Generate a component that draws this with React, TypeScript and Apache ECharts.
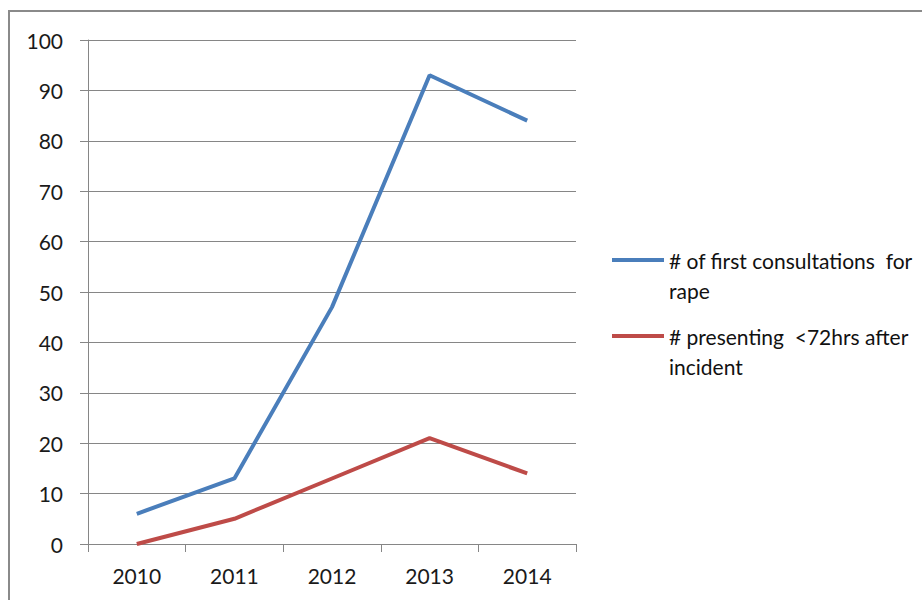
import React, { useEffect, useRef } from "react";
import * as echarts from "echarts";

const years = ["2010", "2011", "2012", "2013", "2014"];
const firstConsultations = [6, 13, 47, 93, 84];
const presentingWithin72h = [0, 5, 13, 21, 14];
const seriesNames = [
  "# of first consultations  for rape",
  "# presenting  <72hrs after incident",
];
// Wrapped legend labels; the leading blank line keeps the first text line level with the swatch
const legendLines: Record<string, string> = {
  "# of first consultations  for rape": " \n# of first consultations  for\nrape",
  "# presenting  <72hrs after incident": " \n# presenting  <72hrs after\nincident",
};

const FONT = "Lato";
const GRAY = "#868686";

export default function App() {
  const ref = useRef<HTMLDivElement>(null);

  useEffect(() => {
    if (!ref.current) return;
    const chart = echarts.init(ref.current, undefined, { renderer: "svg" });
    const legendCommon = {
      orient: "vertical" as const,
      left: 612,
      padding: 0,
      icon: "rect",
      itemWidth: 52,
      itemHeight: 4,
      itemGap: 0,
      formatter: (name: string) => legendLines[name] ?? name,
      textStyle: {
        fontFamily: FONT,
        fontSize: 21,
        color: "#111",
        lineHeight: 30,
      },
    };
    chart.setOption({
      animation: false,
      backgroundColor: "#fff",
      graphic: [
        {
          type: "rect",
          shape: { x: 9, y: 11, width: 1000, height: 700 },
          style: { fill: "none", stroke: "#8a8a8a", lineWidth: 2 },
          silent: true,
        },
      ],
      grid: { left: 88, right: 346, top: 40, bottom: 56 },
      legend: [
        { ...legendCommon, top: 215, data: [seriesNames[0]] },
        { ...legendCommon, top: 291, data: [seriesNames[1]] },
      ],
      xAxis: {
        type: "category",
        data: years,
        boundaryGap: true,
        axisLine: { lineStyle: { color: GRAY, width: 1 } },
        axisTick: { show: true, length: 8, lineStyle: { color: GRAY } },
        axisLabel: { fontFamily: FONT, fontSize: 21, color: "#1a1a1a", margin: 21 },
      },
      yAxis: {
        type: "value",
        min: 0,
        max: 100,
        interval: 10,
        axisLine: { show: true, lineStyle: { color: GRAY, width: 1 } },
        axisTick: { show: true, length: 8, lineStyle: { color: GRAY } },
        splitLine: { show: true, lineStyle: { color: GRAY, width: 1 } },
        axisLabel: { fontFamily: FONT, fontSize: 21, color: "#1a1a1a", margin: 25 },
      },
      series: [
        {
          name: seriesNames[0],
          type: "line",
          data: firstConsultations,
          symbol: "none",
          color: "#4A7EBB",
          lineStyle: { width: 4, color: "#4A7EBB" },
        },
        {
          name: seriesNames[1],
          type: "line",
          data: presentingWithin72h,
          symbol: "none",
          color: "#BE4B48",
          lineStyle: { width: 4, color: "#BE4B48" },
        },
      ],
    });
    return () => chart.dispose();
  }, []);

  return (
    <div
      ref={ref}
      style={{ position: "absolute", left: 0, top: 0, width: 922, height: 600 }}
    />
  );
}
